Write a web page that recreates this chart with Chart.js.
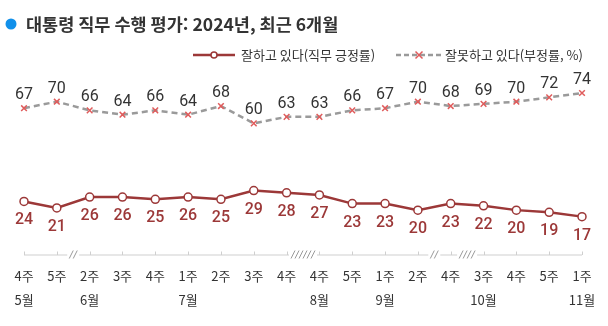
<!DOCTYPE html>
<html lang="ko">
<head>
  <meta charset="UTF-8">
  <title>대통령 직무 수행 평가</title>
  <script src="https://cdn.jsdelivr.net/npm/chart.js"></script>
  <style>
    body { margin: 0; background: #fff; }
    #wrap { width: 608px; height: 326px; }
  </style>
</head>
<body>
  <div id="wrap"><canvas id="approvalChart" width="608" height="326"></canvas></div>

  <script>
    const weeks = ['4주','5주','2주','3주','4주','1주','2주','3주','4주','4주','5주','1주','2주','4주','3주','4주','5주','1주'];
    const months = ['5월','','6월','','','7월','','','','8월','','9월','','','10월','','','11월'];
    const approve = [24,21,26,26,25,26,25,29,28,27,23,23,20,23,22,20,19,17];
    const disapprove = [67,70,66,64,66,64,68,60,63,63,66,67,70,68,69,70,72,74];
    // [index after which the gap sits, number of slashes]
    const axisBreaks = [[1,2],[8,6],[12,2],[13,4]];

    const FONT = '"Noto Sans CJK KR", "Noto Sans", sans-serif';
    const NUM_FONT = 'Roboto, "Noto Sans", sans-serif';
    const RED = '#9c3838';
    const GREY = '#9a9a9a';
    const PINK = '#e05c5c';

    const decorations = {
      id: 'decorations',
      afterDraw(chart) {
        const ctx = chart.ctx;
        const x = chart.scales.x;
        const area = chart.chartArea;
        ctx.save();

        // title
        ctx.fillStyle = '#1190ea';
        ctx.beginPath();
        ctx.arc(11, 24, 5.5, 0, Math.PI * 2);
        ctx.fill();
        ctx.fillStyle = '#333';
        ctx.font = 'bold 17.5px ' + FONT;
        ctx.textBaseline = 'middle';
        ctx.textAlign = 'left';
        ctx.fillText('대통령 직무 수행 평가: 2024년, 최근 6개월', 26, 24);

        // legend
        const ly = 55;
        ctx.lineWidth = 2.5;
        ctx.strokeStyle = RED;
        ctx.beginPath(); ctx.moveTo(193, ly); ctx.lineTo(235, ly); ctx.stroke();
        ctx.fillStyle = '#fff';
        ctx.lineWidth = 1.5;
        ctx.beginPath(); ctx.arc(214, ly, 3, 0, Math.PI * 2); ctx.fill(); ctx.stroke();
        ctx.fillStyle = '#333';
        ctx.font = '13px ' + FONT;
        ctx.fillText(chart.data.datasets[0].label, 241, ly);

        ctx.strokeStyle = GREY;
        ctx.lineWidth = 2.5;
        ctx.setLineDash([5, 3]);
        ctx.beginPath(); ctx.moveTo(396, ly); ctx.lineTo(441, ly); ctx.stroke();
        ctx.setLineDash([]);
        ctx.strokeStyle = PINK;
        ctx.lineWidth = 1.5;
        ctx.beginPath();
        ctx.moveTo(415.5, ly - 3.5); ctx.lineTo(422.5, ly + 3.5);
        ctx.moveTo(422.5, ly - 3.5); ctx.lineTo(415.5, ly + 3.5);
        ctx.stroke();
        ctx.fillText(chart.data.datasets[1].label, 445, ly);

        // x axis
        const ay = area.bottom + 1;
        ctx.strokeStyle = '#cfcfcf';
        ctx.lineWidth = 1;
        ctx.beginPath();
        ctx.moveTo(x.getPixelForValue(0), ay + 0.5);
        ctx.lineTo(x.getPixelForValue(weeks.length - 1), ay + 0.5);
        weeks.forEach((w, i) => {
          const px = Math.round(x.getPixelForValue(i)) + 0.5;
          ctx.moveTo(px, ay - 3); ctx.lineTo(px, ay + 0.5);
        });
        ctx.stroke();

        // break marks
        ctx.strokeStyle = '#9a9a9a';
        axisBreaks.forEach(([i, n]) => {
          const mid = (x.getPixelForValue(i) + x.getPixelForValue(i + 1)) / 2;
          const start = mid - (n - 1) * 2;
          ctx.fillStyle = '#fff';
          ctx.fillRect(start - 4, ay - 1, (n - 1) * 4 + 8, 3);
          ctx.beginPath();
          for (let k = 0; k < n; k++) {
            const sx = start + k * 4;
            ctx.moveTo(sx - 2, ay + 4); ctx.lineTo(sx + 2, ay - 4);
          }
          ctx.stroke();
        });

        // tick labels
        ctx.fillStyle = '#333';
        ctx.font = '13px ' + FONT;
        ctx.textAlign = 'center';
        weeks.forEach((w, i) => {
          const px = x.getPixelForValue(i);
          ctx.fillText(w, px, 276);
          if (months[i]) ctx.fillText(months[i], px, 300);
        });

        // value labels
        const m0 = chart.getDatasetMeta(0);
        const m1 = chart.getDatasetMeta(1);
        ctx.font = '500 16px ' + NUM_FONT;
        ctx.fillStyle = RED;
        m0.data.forEach((pt, i) => ctx.fillText(approve[i], pt.x, pt.y + 19));
        ctx.font = '16px ' + NUM_FONT;
        ctx.fillStyle = '#333';
        m1.data.forEach((pt, i) => ctx.fillText(disapprove[i], pt.x, pt.y - 13));

        ctx.restore();
      }
    };

    new Chart(document.getElementById('approvalChart'), {
      type: 'line',
      data: {
        labels: weeks,
        datasets: [{
          label: '잘하고 있다(직무 긍정률)',
          data: approve,
          borderColor: RED,
          borderWidth: 2.5,
          pointStyle: 'circle',
          pointRadius: 4,
          pointBorderWidth: 1.5,
          pointBackgroundColor: '#fff',
          pointBorderColor: RED,
          tension: 0,
          clip: false
        }, {
          label: '잘못하고 있다(부정률, %)',
          data: disapprove,
          borderColor: GREY,
          borderWidth: 2.5,
          borderDash: [6, 4],
          pointStyle: 'crossRot',
          pointRadius: 4,
          pointBorderWidth: 1.5,
          pointBorderColor: PINK,
          tension: 0,
          clip: false
        }]
      },
      options: {
        responsive: false,
        animation: false,
        layout: { padding: { left: 24, right: 26, top: 80, bottom: 72.5 } },
        plugins: { legend: { display: false }, tooltip: { enabled: false } },
        scales: {
          x: { display: false, offset: false },
          y: { display: false, min: 0, max: 80 }
        }
      },
      plugins: [decorations]
    });
  </script>
</body>
</html>
